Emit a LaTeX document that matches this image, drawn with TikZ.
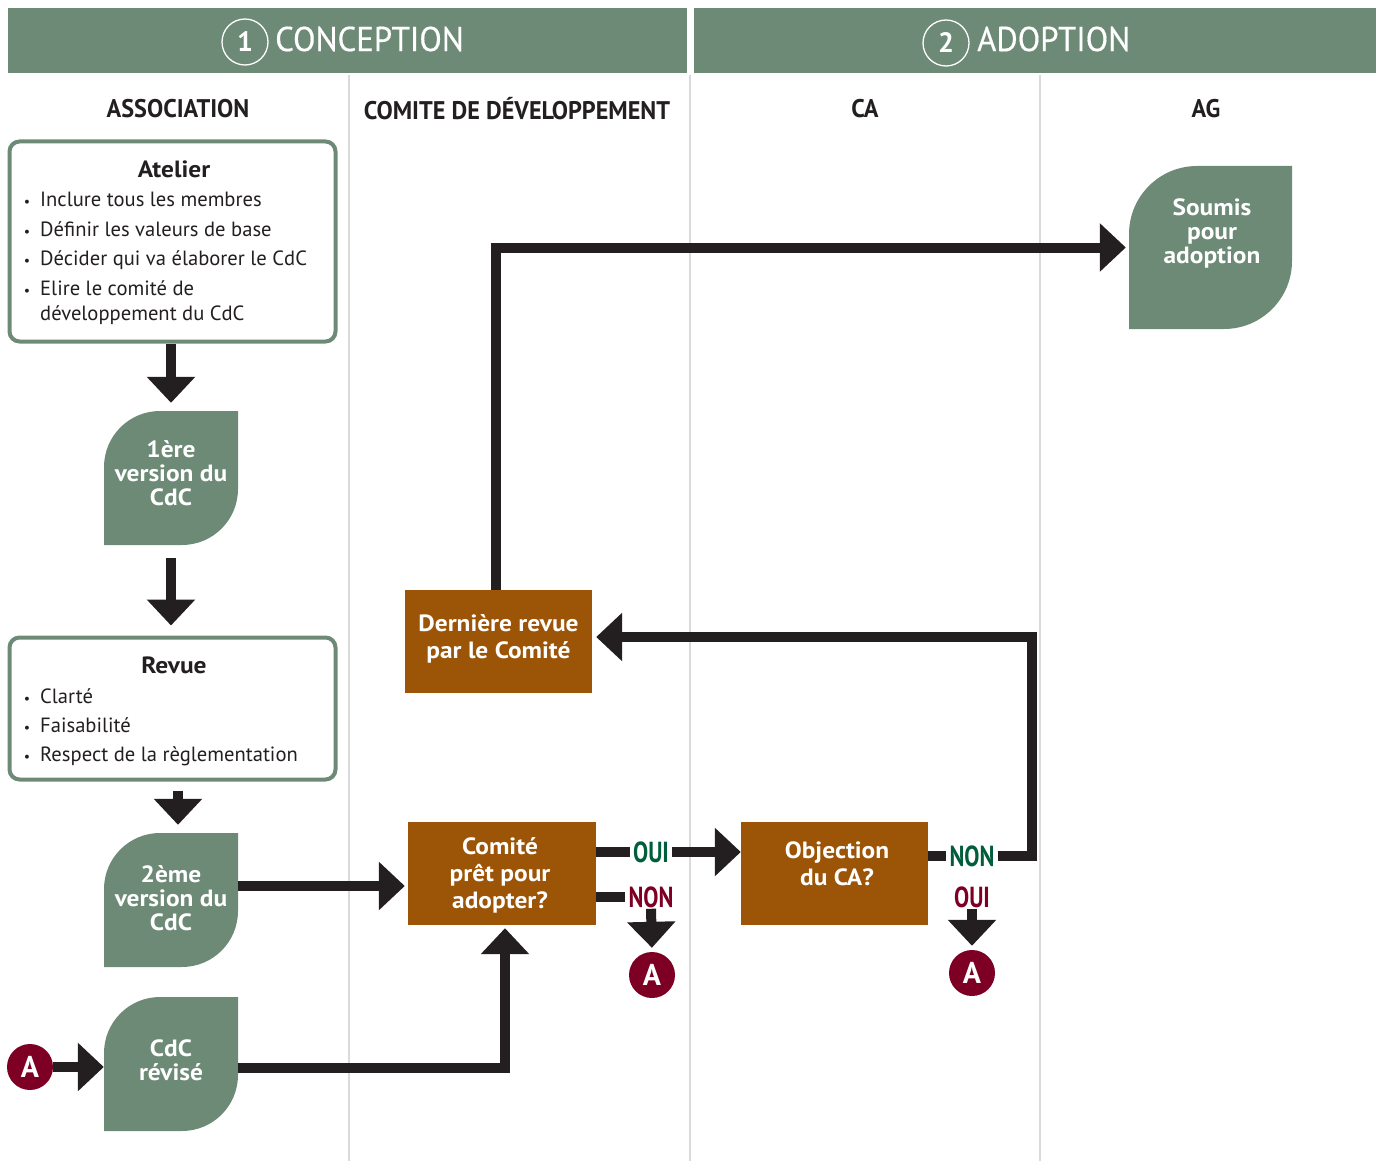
\documentclass[tikz,border=0pt]{standalone}
\usepackage{fontspec}
\setmainfont{PT Sans}
\newfontfamily\condfont[FakeStretch=0.95]{PT Sans}
\newfontfamily\titlefont[FakeStretch=0.95,FakeBold=0.4]{PT Sans}
\newfontfamily\narrowfont[FakeStretch=0.78]{PT Sans}
\newfontfamily\widefont[FakeStretch=1.08]{PT Sans}
\usetikzlibrary{arrows.meta}
\definecolor{sage}{RGB}{109,138,118}
\definecolor{brownbox}{RGB}{156,84,7}
\definecolor{darkred}{RGB}{125,0,36}
\definecolor{ougreen}{RGB}{0,94,60}
\definecolor{ink}{RGB}{35,31,32}
\definecolor{sepgray}{RGB}{218,218,218}
\newcommand\leafpath[1]{%
  \fill[sage] (path picture bounding box.south west)
   -- ([yshift=-#1]path picture bounding box.north west)
   arc[start angle=180,end angle=90,radius=#1]
   -- (path picture bounding box.north east)
   -- ([yshift=#1]path picture bounding box.south east)
   arc[start angle=0,end angle=-90,radius=#1] -- cycle;}
\tikzset{
  hbar/.style={fill=sage, minimum height=65pt, inner sep=0pt},
  numc/.style={circle, draw=white, line width=1.3pt, minimum size=46pt, inner sep=0pt,
    text=white, font=\bfseries\fontsize{28}{28}\selectfont},
  htitle/.style={anchor=west, inner sep=0pt, text=white, font=\titlefont\fontsize{34.5}{36}\selectfont},
  colhd/.style={inner sep=0pt, text=ink, font=\condfont\bfseries\fontsize{25.5}{28}\selectfont},
  sepline/.style={draw=sepgray, line width=1.2pt},
  wbox/.style={draw=sage, line width=4pt, rounded corners=10pt, fill=white, inner sep=0pt},
  btitle/.style={inner sep=0pt, text=ink, font=\widefont\bfseries\fontsize{23.5}{24}\selectfont},
  item/.style={anchor=west, inner sep=0pt, text=ink, text height=16pt, text depth=2pt,
    font=\fontsize{20.6}{22}\selectfont},
  bul/.style={inner sep=0pt, text=ink, text height=16pt, text depth=2pt, font=\fontsize{14}{16}\selectfont},
  leaf/.style={inner sep=0pt, minimum width=#1, minimum height=#1},
  leafA/.style={leaf=134pt, path picture={\leafpath{56pt}}},
  leafB/.style={leaf=163pt, path picture={\leafpath{68pt}}},
  leaftxt/.style={inner sep=0pt, align=center, text=white, font=\widefont\bfseries\fontsize{23.5}{24}\selectfont},
  bbox/.style={fill=brownbox, inner sep=0pt},
  boxtxt/.style={inner sep=0pt, align=center, text=white, font=\widefont\bfseries\fontsize{23.5}{27}\selectfont},
  lbl/.style={inner xsep=3pt, inner ysep=1pt, font=\narrowfont\bfseries\fontsize{29}{29}\selectfont},
  acirc/.style={circle, fill=darkred, minimum size=46pt, inner sep=0pt, text=white,
    font=\bfseries\fontsize{30}{30}\selectfont},
  conn/.style={draw=ink, line width=10pt},
  arr/.style={conn, -{Triangle[length=26pt,width=47pt]}},
}
\begin{document}
\begin{tikzpicture}[x=1pt,y=-1pt]
\useasboundingbox (0,0) rectangle (1378,1161);
% header
\node[hbar, minimum width=679pt] (hb1) at (347.5,40.5) {};
\node[hbar, minimum width=682pt] (hb2) at (1035,40.5) {};
\node[numc] (n1) at (245,42) {1};
\node[htitle] (t1) at (275,39) {CONCEPTION};
\node[numc] (n2) at (946,43) {2};
\node[htitle] (t2) at (977,39) {ADOPTION};
% separators
\draw[sepline] (349,75) -- (349,1161);
\draw[sepline] (690,75) -- (690,1161);
\draw[sepline] (1040,75) -- (1040,1161);
% column heads
\node[colhd] (ch1) at (178,109) {ASSOCIATION};
\node[colhd] (ch2) at (517,109) {COMITE DE DÉVELOPPEMENT};
\node[colhd] (ch3) at (865,109) {CA};
\node[colhd] (ch4) at (1206,109) {AG};
% Atelier
\node[wbox, minimum width=326pt, minimum height=200pt] (atelier) at (172.5,241.5) {};
\node[btitle] (atit) at (174,169) {Atelier};
\foreach \t/\y [count=\i] in {Inclure tous les membres/200, Définir les valeurs de base/229,
  Décider qui va élaborer le CdC/258, Elire le comité de/288}{
  \node[bul] (ab\i) at (27,\y) {•};
  \node[item] (ai\i) at (40,\y) {\t};
}
\node[item] (ai5) at (40,313) {développement du CdC};
% Revue
\node[wbox, minimum width=326pt, minimum height=142pt] (revue) at (172.5,708.5) {};
\node[btitle] (rtit) at (174,665) {Revue};
\foreach \t/\y [count=\i] in {Clarté/696, Faisabilité/725, Respect de la règlementation/754}{
  \node[bul] (rb\i) at (27,\y) {•};
  \node[item] (ri\i) at (40,\y) {\t};
}
% leaves
\node[leafA] (v1) at (171,478) {};
\node[leaftxt] (v1t) at ([yshift=5pt]v1.center) {1ère\\version du\\CdC};
\node[leafA] (v2) at (171,900) {};
\node[leaftxt] (v2t) at ([yshift=2pt]v2.center) {2ème\\version du\\CdC};
\node[leafA] (cdcr) at (171,1064) {};
\node[leaftxt] (crt) at ([yshift=4pt]cdcr.center) {CdC\\révisé};
\node[leafB] (soumis) at (1210.5,247.5) {};
\node[leaftxt] (st) at ([xshift=1.5pt,yshift=14.5pt]soumis.center) {Soumis\\pour\\adoption};
% brown boxes
\node[bbox, minimum width=188pt, minimum height=103pt] (comite) at (502,873.5) {};
\node[boxtxt] (comt) at ([xshift=-2pt,yshift=-2pt]comite.center) {Comité\\prêt pour\\adopter?};
\node[bbox, minimum width=187pt, minimum height=103pt] (derniere) at (498.5,641.5) {};
\node[boxtxt] (dert) at ([yshift=3pt]derniere.center) {Dernière revue\\par le Comité};
\node[bbox, minimum width=187pt, minimum height=103pt] (objection) at (834.5,873.5) {};
\node[boxtxt] (objt) at ([xshift=2.5pt,yshift=10pt]objection.center) {Objection\\du CA?};
% labels
\node[lbl, text=ougreen] (oui1) at (651,852) {OUI};
\node[lbl, text=darkred] (non1) at (651,897) {NON};
\node[lbl, text=ougreen] (non2) at (972,856) {NON};
\node[lbl, text=darkred] (oui2) at (972,897) {OUI};
% A circles
\node[acirc] (a1) at (652,975) {A};
\node[acirc] (a2) at (972,973) {A};
\node[acirc] (a3) at (30,1067) {A};
% connectors
\draw[arr, shorten >=8pt] (atelier.south -| v1.north) -- (v1.north);
\draw[arr, shorten <=13pt, shorten >=10pt] (v1.south) -- (revue.north -| v1.south);
\coordinate (r3) at ([xshift=7pt]v2.north);
\draw[arr, shorten <=9pt, shorten >=8pt] (r3 |- revue.south) -- (r3);
\coordinate (v2o) at ([yshift=14pt]v2.east);
\draw[arr, shorten >=3pt] (v2o) -- (v2o -| comite.west);
\coordinate (cro) at ([yshift=-4pt]cdcr.east);
\coordinate (ci) at ([xshift=3pt]comite.south);
\draw[arr, shorten >=3pt] (cro) -| (ci);
\draw[arr] (a3.east) -- (a3.east -| cdcr.west);
\draw[conn] (comite.east |- oui1.west) -- (oui1.west);
\draw[arr] (oui1.east) -- (oui1.east -| objection.west);
\draw[conn] (comite.east |- non1.west) -- (non1.west);
\draw[arr, shorten >=4pt] (non1.south) -- (a1.north);
\draw[conn] (objection.east |- non2.west) -- (non2.west);
\draw[arr, shorten >=4pt] (oui2.south) -- (a2.north);
\coordinate (loopc) at (1032,637);
\draw[arr, shorten >=4pt] (non2.east) -| (loopc) -- (loopc -| derniere.east);
\draw[arr, shorten >=3pt] ([xshift=-2.5pt]derniere.north) |- (soumis.west);
\end{tikzpicture}
\end{document}
